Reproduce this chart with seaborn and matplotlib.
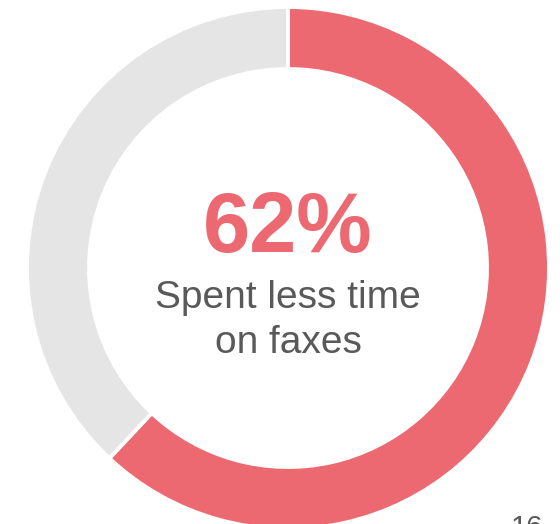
import matplotlib
matplotlib.use("Agg")
import matplotlib.pyplot as plt
import seaborn as sns

sns.set_theme(style="white")
plt.rcParams["font.family"] = ["Liberation Sans", "DejaVu Sans"]

# Share of respondents
labels = ["Spent less time on faxes", "Other"]
values = [62, 38]
colors = ["#EC6971", "#E5E5E5"]
headline = "62%"
caption_lines = ["Spent less time", "on faxes"]
page_number = "16"

W, H = 560, 524
fig = plt.figure(figsize=(W / 100, H / 100), dpi=100)
ax = fig.add_axes([0, 0, 1, 1])

cx, cy = 288, H - 268
outer_r, ring_w = 261, 62

ax.pie(values, colors=colors, startangle=90, counterclock=False,
       center=(cx, cy), radius=outer_r, frame=False,
       wedgeprops=dict(width=ring_w, edgecolor="white", linewidth=2.8))

ax.text(cx, H - 252, headline, ha="center", va="baseline",
        fontsize=61, fontweight="bold", color=colors[0])
ax.text(cx, H - 308, caption_lines[0], ha="center", va="baseline",
        fontsize=28, color="#595959")
ax.text(cx, H - 353, caption_lines[1], ha="center", va="baseline",
        fontsize=28, color="#595959")
# page number sits at the bottom edge of the slide
ax.text(511, H - 514, page_number, ha="left", va="top",
        fontsize=21, color="#595959")

ax.set_xlim(0, W)
ax.set_ylim(0, H)
ax.set_aspect("equal")
ax.axis("off")

fig.savefig("out.png", dpi=100, facecolor="white")
